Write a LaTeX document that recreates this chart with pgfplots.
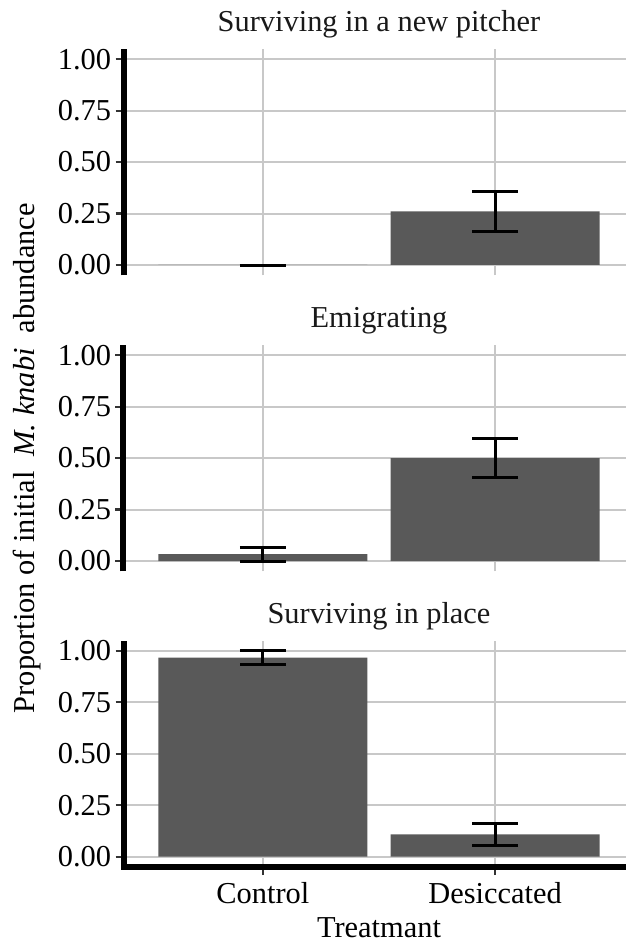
\documentclass[border=0pt]{standalone}
\usepackage{pgfplots}
\pgfplotsset{compat=1.18}
\usepackage{fontspec}
\setmainfont{Liberation Serif}
\definecolor{barcol}{HTML}{595959}
\definecolor{gridcol}{HTML}{C8C8C8}
\definecolor{tickcol}{HTML}{333333}
\pgfplotsset{
 panel/.style={
  scale only axis, width=255.5pt, height=113.2pt,
  xmin=0.4, xmax=2.6, ymin=-0.05, ymax=1.05,
  xtick={1,2}, ytick={0,0.25,0.5,0.75,1},
  yticklabels={0.00,0.25,0.50,0.75,1.00},
  xmajorgrids, ymajorgrids,
  major grid style={gridcol, line width=1pt},
  axis y line*=left, axis x line*=bottom,
  y axis line style={-, line width=3pt, black},
  tick align=outside, major tick length=4pt,
  ytick style={tickcol, line width=1.1pt},
  yticklabel style={font=\fontsize{15.2}{17}\selectfont, black, inner xsep=2pt},
  title style={font=\fontsize{15.2}{17}\selectfont, color=black!90, at={(0.5,1)}, anchor=base, yshift=2.5pt},
  ybar, bar width=0.9,
 },
 nox/.style={
  x axis line style={draw=none},
  xtick style={draw=none},
  xticklabels={},
 },
 errs/.style={
  fill=barcol, draw=none,
  error bars/.cd, y dir=both, y explicit,
  error bar style={line width=1.5pt, black},
  error mark options={rotate=90, mark size=11.5pt, line width=1.5pt, black},
 },
}
\begin{document}
\begin{tikzpicture}
\useasboundingbox (0,0) rectangle (313pt,471pt);
\begin{axis}[panel, nox, at={(61.75pt,333.35pt)}, anchor=south west,
  title={Surviving in a new pitcher}]
\addplot[errs] coordinates {(1,0) +- (0,0) (2,0.26) +- (0,0.095)};
\end{axis}
\begin{axis}[panel, nox, at={(61.75pt,185.35pt)}, anchor=south west,
  title={Emigrating},
  ylabel={Proportion of initial\ \ \textit{M.\ knabi}\ \ abundance},
  ylabel style={font=\fontsize{15.2}{17}\selectfont, at={(axis description cs:-0.1751,0.5)}, anchor=base}]
\addplot[errs] coordinates {(1,0.0335) +- (0,0.0335) (2,0.5) +- (0,0.094)};
\end{axis}
\begin{axis}[panel, at={(61.75pt,37.5pt)}, anchor=south west,
  title={Surviving in place},
  x axis line style={-, line width=3pt, black, line cap=rect},
  xtick style={tickcol, line width=1.1pt},
  xticklabels={Control,Desiccated},
  xticklabel style={font=\fontsize{15.2}{17}\selectfont, black},
  xlabel={Treatmant},
  xlabel style={font=\fontsize{15.2}{17}\selectfont, at={(axis description cs:0.5,0)}, anchor=base, yshift=-35pt}]
\addplot[errs] coordinates {(1,0.967) +- (0,0.033) (2,0.108) +- (0,0.055)};
\end{axis}
\end{tikzpicture}
\end{document}
